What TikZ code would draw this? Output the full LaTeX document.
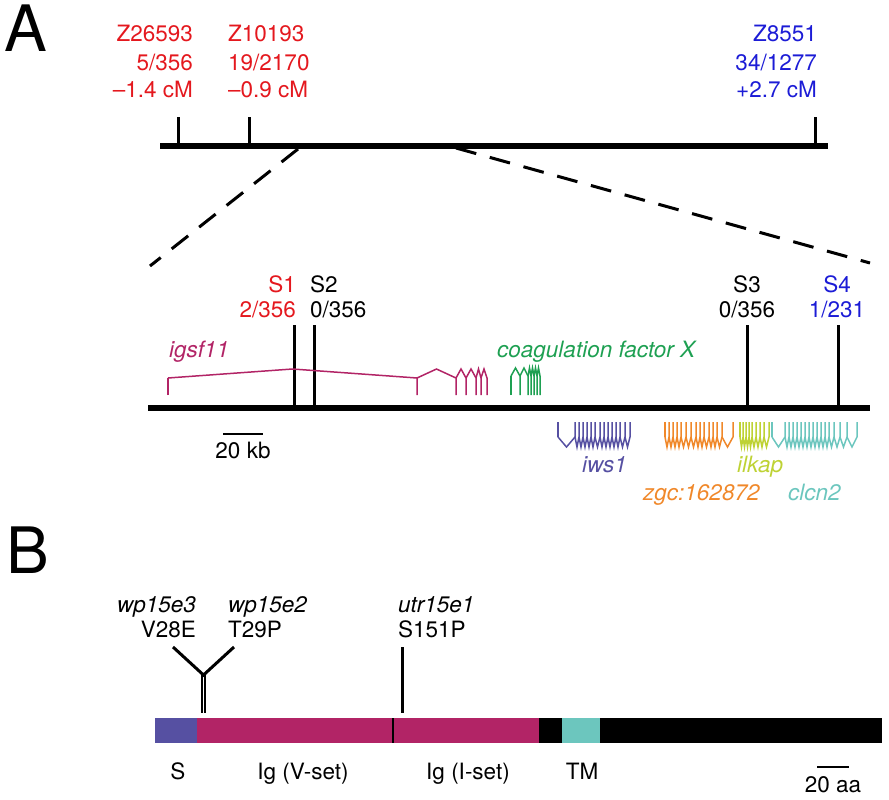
\documentclass[tikz,border=0pt]{standalone}
\usepackage{fontspec}
\setmainfont{TeX Gyre Heros}
\usepackage{xcolor}
\usetikzlibrary{positioning}

\definecolor{mapred}{RGB}{228,24,30}
\definecolor{mapblue}{RGB}{28,28,214}
\definecolor{igsfcol}{RGB}{178,36,102}
\definecolor{coagcol}{RGB}{30,160,82}
\definecolor{iwscol}{RGB}{86,80,162}
\definecolor{zgccol}{RGB}{240,136,42}
\definecolor{ilkapcol}{RGB}{190,210,52}
\definecolor{clcncol}{RGB}{108,198,190}

% one gene: colour, y at line side, y of exon joints, y of intron tips, first exon, other exons
\newcommand{\drawgene}[6]{%
  \draw[gene,#1] (#5,#2) -- (#5,#3);
  \foreach \ex [remember=\ex as \prevex (initially #5)] in {#6}{
    \draw[gene,#1] (\prevex,#3) -- ({(\prevex+\ex)/2},#4) -- (\ex,#3) -- (\ex,#2);
  }
}

\tikzset{
  lab/.style={inner sep=0pt, font=\fontsize{22.5}{28}\selectfont},
  slab/.style={inner sep=0pt, font=\fontsize{22.5}{25}\selectfont},
  panel/.style={inner sep=0pt, font=\fontsize{64}{64}\selectfont, anchor=base west},
  gene/.style={line width=1.5pt},
  tick/.style={line width=3pt},
  chrom/.style={line width=6pt},
  zoomline/.style={line width=3pt, dash pattern=on 21pt off 14pt},
  scalebar/.style={line width=2.5pt},
}

\begin{document}
\begin{tikzpicture}[x=1pt,y=-1pt]
\useasboundingbox (0,0) rectangle (889,800);

% panel A, genetic map
\node[panel] (panelA) at (4,52) {A};
\coordinate (mapL) at (160,146);
\coordinate (mapR) at (828,146);
\draw[chrom] (mapL) -- (mapR);
\foreach \x in {178,249,815}{
  \draw[tick] (\x,146) -- (\x,117);
}
\node[lab, text=mapred, align=right, anchor=base east] (z26593) at (193,98) {Z26593\\5/356\\–1.4 cM};
\node[lab, text=mapred, align=left, anchor=base west] (z10193) at (228,98) {Z10193\\19/2170\\–0.9 cM};
\node[lab, text=mapblue, align=right, anchor=base east] (z8551) at (817,98) {Z8551\\34/1277\\+2.7 cM};

% zoom in
\coordinate (zoomA) at (298,149);
\coordinate (zoomB) at (456,148);
\coordinate (zoomC) at (150,266);
\coordinate (zoomD) at (870,263);
\draw[zoomline] (zoomA) -- (zoomC);
\draw[zoomline] (zoomB) -- (zoomD);

% physical map
\coordinate (physL) at (148,408);
\coordinate (physR) at (870,408);
\draw[chrom] (physL) -- (physR);
\foreach \x in {294,314,747,838}{
  \draw[tick] (\x,408) -- (\x,325);
}
\node[slab, text=mapred, align=right, anchor=base east] (s1) at (296,317) {S1\\2/356};
\node[slab, align=left, anchor=base west] (s2) at (310,317) {S2\\0/356};
\node[slab, align=center, anchor=base] (s3) at (747,317) {S3\\0/356};
\node[slab, text=mapblue, align=center, anchor=base] (s4) at (837,317) {S4\\1/231};

% gene models
\drawgene{igsfcol}{395}{378}{369}{168}{417,456,466,476,481,487}
\drawgene{coagcol}{395}{376}{368}{511}{520,528,531,534,537,540}
\drawgene{iwscol}{422}{437}{447}{558}{575,579,583,587,591,595,600,604,608,612,616,620,625,630}
\drawgene{zgccol}{422}{437}{447}{665}{669,673,677,681,686,691,696,700,704,709,713,717,722,733}
\drawgene{ilkapcol}{422}{437}{447}{740}{743,746,749,752,756,760,764,769}
\drawgene{clcncol}{422}{437}{447}{772}{785,789,793,797,801,805,809,813,817,821,825,829,834,840,847,857}
\node[lab, text=igsfcol, anchor=base west] (igsf11) at (169,357) {\itshape igsf11};
\node[lab, text=coagcol, anchor=base west] (coag) at (497,357) {\itshape coagulation factor X};
\node[lab, text=iwscol, anchor=base west] (iws1) at (582,472) {\itshape iws1};
\node[lab, text=ilkapcol, anchor=base west] (ilkap) at (737,472) {\itshape ilkap};
\node[lab, text=zgccol, anchor=base west] (zgc) at (643,500) {\itshape zgc:162872};
\node[lab, text=clcncol, anchor=base west] (clcn2) at (788,500) {\itshape clcn2};

\coordinate (kbL) at (223,434);
\coordinate (kbR) at (263,434);
\draw[scalebar] (kbL) -- (kbR);
\node[lab, anchor=base] (kb) at (243,458) {20 kb};

% panel B, protein
\node[panel] (panelB) at (6,573) {B};
\fill[iwscol] (155,718) rectangle (197,743);
\fill[igsfcol] (197,718) rectangle (539,743);
\fill[black] (539,718) rectangle (562,743);
\fill[clcncol] (562,718) rectangle (600,743);
\fill[black] (600,718) rectangle (882,743);
\draw[line width=2.5pt] (393,718) -- (393,743);

\node[lab, anchor=base] (sig) at (178,779) {S};
\node[lab, anchor=base] (igv) at (303,779) {Ig (V-set)};
\node[lab, anchor=base] (igi) at (468,779) {Ig (I-set)};
\node[lab, anchor=base] (tm) at (582,779) {TM};
\coordinate (aaL) at (817,767);
\coordinate (aaR) at (849,767);
\draw[scalebar] (aaL) -- (aaR);
\node[lab, anchor=base] (aa) at (833,792) {20 aa};

% mutations
\coordinate (fork) at (203.5,675);
\draw[line width=2pt] (202,675) -- (202,713);
\draw[line width=2pt] (205,675) -- (205,713);
\draw[tick] (173,647) -- (fork) -- (234,647);
\draw[tick] (402,647) -- (402,713);
\node[slab, align=right, anchor=base east] (wp3) at (196,637) {\itshape wp15e3\\V28E};
\node[slab, align=left, anchor=base west] (wp2) at (228,637) {\itshape wp15e2\\T29P};
\node[slab, align=left, anchor=base west] (utr) at (398,637) {\itshape utr15e1\\S151P};
\end{tikzpicture}
\end{document}
